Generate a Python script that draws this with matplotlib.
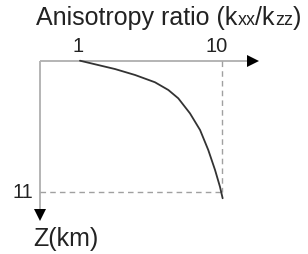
import numpy as np
import matplotlib.pyplot as plt

plt.rcParams['font.family'] = ['Liberation Sans', 'DejaVu Sans']

# --- data ---
ratio = [1.0, 1.95, 3.22, 4.49, 5.75, 6.60, 7.23, 7.97, 8.61, 9.13, 9.56, 9.87, 10.04]
depth = [0.0, 0.30, 0.70, 1.20, 1.81, 2.46, 3.16, 4.42, 5.82, 7.50, 9.18, 10.58, 11.55]
x_ticks = [1, 10]
z_mark = 11
title_parts = [("Anisotropy ratio (k", 1.0), ("xx", 0.72), ("/k", 1.0), ("zz", 0.72), (")", 1.0)]
z_label = "Z(km)"

W, H = 308, 254
fig = plt.figure(figsize=(W / 100, H / 100), dpi=100)
ax = fig.add_axes([0, 0, 1, 1])
ax.axis('off')

# pixel <-> data: x=1 at px 80, x=10 at px 222; z=0 at px 60.7, z=11 at px 191.7
sx = (222 - 80) / 9.0
sz = (191.7 - 60.7) / 11.0
def px_x(p): return 1 + (p - 80) / sx
def px_z(p): return (p - 60.7) / sz

ax.set_xlim(px_x(0), px_x(W))
ax.set_ylim(px_z(H), px_z(0))

x0, z0 = px_x(40), 0.0
axis_col = '#b4b4b4'
# axes with arrows
ax.plot([x0, px_x(250)], [z0, z0], color=axis_col, lw=1.4, solid_capstyle='butt')
ax.plot([x0, x0], [z0, px_z(212)], color=axis_col, lw=1.4, solid_capstyle='butt')
ax.plot([px_x(253)], [z0], marker='>', color='black', ms=8, mew=0)
ax.plot([x0], [px_z(215)], marker='v', color='black', ms=8, mew=0)

# dashed guides
ax.plot([10, 10], [z0, z_mark], color='#a0a0a0', lw=1.0, ls=(0, (4, 3)))
ax.plot([x0, 10], [z_mark, z_mark], color='#a0a0a0', lw=1.0, ls=(0, (4, 3)))

# curve
ax.plot(ratio, depth, color='#333333', lw=1.3, solid_capstyle='round', solid_joinstyle='round')

# tick labels
fs_tick = 14.5
ax.text(x_ticks[0] - 0.15, px_z(51.7), str(x_ticks[0]), fontsize=fs_tick, ha='center', va='baseline', color='#222222')
ax.text(x_ticks[1] - 0.35, px_z(51.7), str(x_ticks[1]), fontsize=fs_tick, ha='center', va='baseline', color='#222222')
ax.text(px_x(33), px_z(198.3), str(z_mark), fontsize=fs_tick, ha='right', va='baseline', color='#222222')

# title built from pieces so that xx / zz come out smaller
renderer = fig.canvas.get_renderer()
fs_title = 18
x = 36
for s, scale in title_parts:
    t = fig.text(x / W, 1 - 25 / H, s, fontsize=fs_title * scale, ha='left', va='baseline', color='#222222')
    x += t.get_window_extent(renderer).width

fig.text(33 / W, 1 - 246 / H, z_label, fontsize=18, ha='left', va='baseline', color='#222222')

fig.savefig('out.png', dpi=100)
